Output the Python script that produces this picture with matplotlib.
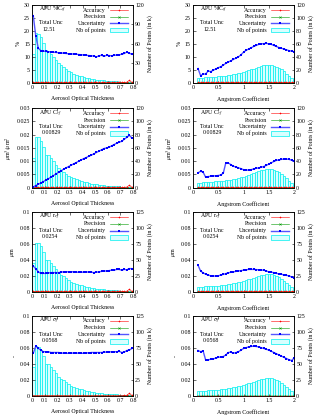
import matplotlib
matplotlib.use("Agg")
import matplotlib.pyplot as plt
from matplotlib.patches import Rectangle

plt.rcParams['font.family'] = ['Liberation Serif', 'DejaVu Serif']
plt.rcParams['mathtext.fontset'] = 'stix'
FS = 4.2

# ---------------- data ----------------
aot_x = [0.01, 0.03, 0.05, 0.07, 0.09, 0.11, 0.13, 0.15, 0.17, 0.19,
         0.21, 0.23, 0.25, 0.27, 0.29, 0.31, 0.33, 0.35, 0.37, 0.39,
         0.41, 0.43, 0.45, 0.47, 0.49, 0.51, 0.53, 0.55, 0.57, 0.59,
         0.61, 0.63, 0.65, 0.67, 0.69, 0.71, 0.73, 0.75, 0.77, 0.79]
ang_x = [0.10, 0.15, 0.20, 0.25, 0.30, 0.35, 0.40, 0.45, 0.50, 0.55,
         0.60, 0.65, 0.70, 0.75, 0.80, 0.85, 0.90, 0.95, 1.00, 1.05,
         1.10, 1.15, 1.20, 1.25, 1.30, 1.35, 1.40, 1.45, 1.50, 1.55,
         1.60, 1.65, 1.70, 1.75, 1.80, 1.85, 1.90, 1.95, 2.00]

# number of points (in k)
aot_count = [45, 77, 76, 71, 62, 50, 49, 45, 40, 35,
             30, 27, 24, 21, 18, 16, 14, 12.5, 11, 10,
             9, 8, 7, 6.3, 5.6, 5, 4.5, 4, 3.6, 3.2,
             2.9, 2.6, 2.3, 2.1, 1.9, 1.7, 1.5, 1.4, 1.2, 1.1]
ang_count = [7, 7.5, 8, 8.3, 8.6, 8.9, 9.2, 9.5, 9.8, 10.2,
             10.6, 11, 11.6, 12.2, 13, 13.8, 14.7, 15.7, 16.8, 18,
             19.3, 20.6, 22, 23.4, 24.8, 26, 27, 27.8, 28, 27.6,
             26.5, 25, 23, 20.5, 17.5, 14, 10.5, 7, 3.5]

# uncertainty curves
unc_cvfp_aot = [25.9, 18.0, 13.3, 12.4, 12.2, 12.1, 12.0, 11.9, 11.8, 11.7,
                11.6, 11.5, 11.4, 11.3, 11.2, 11.1, 11.1, 11.0, 10.9, 10.8,
                10.7, 10.6, 10.5, 10.4, 10.3, 10.0, 10.4, 10.6, 10.2, 10.6,
                10.5, 10.4, 10.6, 10.7, 10.8, 11.0, 11.3, 11.8, 11.4, 11.0]
unc_cvfp_ang = [5.5, 2.8, 3.3, 3.4, 4.5, 4.3, 4.8, 5.3, 5.8, 6.2,
                6.8, 7.5, 8.0, 8.5, 9.0, 9.5, 10.0, 10.8, 11.8, 12.5,
                13.0, 13.5, 14.0, 14.4, 14.8, 15.0, 15.1, 15.2, 15.0, 14.8,
                14.4, 14.0, 13.6, 13.3, 13.0, 12.7, 12.4, 12.2, 12.0]
unc_cvf_aot = [0.0003, 0.0008, 0.0013, 0.0018, 0.0023, 0.0029, 0.0034, 0.0040, 0.0046, 0.0052,
               0.0058, 0.0064, 0.0070, 0.0075, 0.0080, 0.0085, 0.0090, 0.0095, 0.0100, 0.0105,
               0.0110, 0.0114, 0.0119, 0.0123, 0.0128, 0.0133, 0.0138, 0.0143, 0.0148, 0.0150,
               0.0153, 0.0158, 0.0163, 0.0168, 0.0172, 0.0175, 0.0183, 0.0190, 0.0198, 0.0188]
unc_cvf_ang = [0.0056, 0.0062, 0.0059, 0.0040, 0.0042, 0.0043, 0.0044, 0.0045, 0.0046, 0.0048,
               0.0055, 0.0094, 0.0093, 0.0087, 0.0081, 0.0078, 0.0075, 0.0072, 0.0068, 0.0067,
               0.0066, 0.0068, 0.0071, 0.0073, 0.0075, 0.0077, 0.0080, 0.0084, 0.0089, 0.0094,
               0.0099, 0.0103, 0.0105, 0.0107, 0.0108, 0.0108, 0.0107, 0.0104, 0.0099]
unc_ref_aot = [0.032, 0.029, 0.025, 0.023, 0.023, 0.023, 0.0235, 0.024, 0.024, 0.024,
               0.024, 0.0245, 0.025, 0.025, 0.025, 0.025, 0.025, 0.0245, 0.0245, 0.0245,
               0.0245, 0.0245, 0.025, 0.0245, 0.024, 0.0245, 0.025, 0.0255, 0.026, 0.026,
               0.0265, 0.027, 0.027, 0.028, 0.028, 0.027, 0.028, 0.0275, 0.029, 0.029]
unc_ref_ang = [0.0333, 0.026, 0.0238, 0.022, 0.021, 0.020, 0.0196, 0.0198, 0.020, 0.021,
               0.0217, 0.0228, 0.0238, 0.0244, 0.025, 0.0255, 0.026, 0.0265, 0.027, 0.0275,
               0.028, 0.028, 0.028, 0.0278, 0.0275, 0.0272, 0.027, 0.026, 0.025, 0.0245,
               0.024, 0.023, 0.0225, 0.022, 0.021, 0.0205, 0.020, 0.0185, 0.0175]
unc_sig_aot = [0.053, 0.062, 0.059, 0.057, 0.055, 0.055, 0.055, 0.054, 0.054, 0.054,
               0.054, 0.0535, 0.053, 0.053, 0.053, 0.053, 0.0535, 0.0535, 0.053, 0.053,
               0.053, 0.0535, 0.0535, 0.054, 0.054, 0.054, 0.054, 0.054, 0.0545, 0.0545,
               0.0545, 0.055, 0.055, 0.055, 0.0555, 0.054, 0.0545, 0.0565, 0.057, 0.059]
unc_sig_ang = [0.0565, 0.055, 0.056, 0.045, 0.045, 0.0455, 0.046, 0.047, 0.048, 0.0485,
               0.049, 0.051, 0.054, 0.0545, 0.053, 0.054, 0.055, 0.057, 0.059, 0.060,
               0.061, 0.0615, 0.062, 0.0615, 0.061, 0.060, 0.059, 0.058, 0.057, 0.0555,
               0.054, 0.0525, 0.051, 0.0495, 0.048, 0.0465, 0.045, 0.044, 0.047]

# accuracy (fraction of panel max, tiny) typed per variable
acc_aot = [0.004, 0.004, 0.004, 0.004, 0.004, 0.004, 0.004, 0.004, 0.004, 0.004,
           0.004, 0.004, 0.004, 0.004, 0.004, 0.004, 0.004, 0.004, 0.004, 0.004,
           0.004, 0.004, 0.004, 0.004, 0.004, 0.004, 0.004, 0.004, 0.004, 0.004,
           0.004, 0.004, 0.004, 0.004, 0.004, 0.004, 0.005, 0.008, 0.03, 0.006]
acc_ang = [0.004] * 39

var_labels = [r'APU %C$_{vf}$', r'APU C$_{vf}$', r'APU r$_{ef}$', r'APU $\sigma_f$']
total_unc = ['12.51', '0.00829', '0.0254', '0.0568']
y_units = ['%', r'$\mu$m$^3$/$\mu$m$^2$', r'$\mu$m', '-']
y_max = [30, 0.03, 0.1, 0.1]
y_ticks = [[0, 5, 10, 15, 20, 25, 30],
           [0, 0.005, 0.01, 0.015, 0.02, 0.025, 0.03],
           [0, 0.02, 0.04, 0.06, 0.08, 0.1],
           [0, 0.02, 0.04, 0.06, 0.08, 0.1]]
y_ticklabels = [['0', '5', '10', '15', '20', '25', '30'],
                ['0', '0.005', '0.01', '0.015', '0.02', '0.025', '0.03'],
                ['0', '0.02', '0.04', '0.06', '0.08', '0.1'],
                ['0', '0.02', '0.04', '0.06', '0.08', '0.1']]
y2_max = [[120, 120], [120, 120], [125, 125], [125, 125]]
y2_ticks = [[[0, 30, 60, 90, 120], [0, 20, 40, 60, 80, 100, 120]],
            [[0, 20, 40, 60, 80, 100, 120], [0, 20, 40, 60, 80, 100, 120]],
            [[0, 25, 50, 75, 100, 125], [0, 25, 50, 75, 100, 125]],
            [[0, 25, 50, 75, 100, 125], [0, 25, 50, 75, 100, 125]]]
unc_aot = [unc_cvfp_aot, unc_cvf_aot, unc_ref_aot, unc_sig_aot]
unc_ang = [unc_cvfp_ang, unc_cvf_ang, unc_ref_ang, unc_sig_ang]

aot_ticks = [0, 0.1, 0.2, 0.3, 0.4, 0.5, 0.6, 0.7, 0.8]
aot_ticklabels = ['0', '0.1', '0.2', '0.3', '0.4', '0.5', '0.6', '0.7', '0.8']
ang_ticks = [0, 0.5, 1, 1.5, 2]
ang_ticklabels = ['0', '0.5', '1', '1.5', '2']

# ---------------- figure ----------------
fig = plt.figure(figsize=(3.2, 4.18), dpi=100)
col_left = [0.100, 0.603]
col_w = 0.316
row_bottom = [0.802, 0.551, 0.302, 0.053]
row_h = [0.186, 0.190, 0.191, 0.192]

RED = '#ff0000'
GREEN = '#009900'
BLUE = '#0000ff'
LBLUE = '#5555ff'
CYAN = '#00eeee'
CFILL = '#d8ffff'


def style_ticks(a):
    a.tick_params(direction='in', labelsize=FS, length=1.8, width=0.4, pad=1.5)


for r in range(4):
    for c in range(2):
        ax = fig.add_axes([col_left[c], row_bottom[r], col_w, row_h[r]])
        ax2 = ax.twinx()
        ax.set_zorder(ax2.get_zorder() + 1)
        ax.patch.set_visible(False)
        if c == 0:
            xs, cnt, unc, acc = aot_x, aot_count, unc_aot[r], acc_aot
            bw = 0.02
            xl = 'Aerosol Optical Thickness'
            xt, xtl, xlim = aot_ticks, aot_ticklabels, (0, 0.8)
        else:
            xs, cnt, unc, acc = ang_x, ang_count, unc_ang[r], acc_ang
            bw = 0.05
            xl = 'Angstrom Coefficient'
            xt, xtl, xlim = ang_ticks, ang_ticklabels, (0, 2)
        ymax = y_max[r]
        # histogram
        ax2.bar(xs, cnt, width=bw, facecolor=CFILL, edgecolor=CYAN, linewidth=0.5)
        ax2.set_ylim(0, y2_max[r][c])
        ax2.set_yticks(y2_ticks[r][c])
        ax2.set_ylabel('Number of Points (in k)', fontsize=FS, labelpad=2)
        style_ticks(ax2)
        # curves
        ax.plot(xs, [0] * len(xs), color=GREEN, lw=0.4, marker='x', ms=1.5, mew=0.4)
        ax.plot(xs, [a * ymax for a in acc], color=RED, lw=0.4, marker='+', ms=2, mew=0.4)
        ax.plot(xs, unc, color=LBLUE, lw=1.0, marker='s', ms=1.9, mfc=BLUE, mec=BLUE, mew=0)
        ax.set_xlim(*xlim)
        ax.set_ylim(0, ymax)
        ax.set_xticks(xt)
        ax.set_xticklabels(xtl)
        ax.set_yticks(y_ticks[r])
        ax.set_yticklabels(y_ticklabels[r])
        ax.tick_params(top=True)
        style_ticks(ax)
        ax.set_xlabel(xl, fontsize=FS, labelpad=4.5)
        ax.set_ylabel(y_units[r], fontsize=FS, labelpad=2)
        for a in (ax, ax2):
            for s in a.spines.values():
                s.set_linewidth(0.5)
        # annotations
        ax.text(0.07, 0.935, var_labels[r], transform=ax.transAxes, fontsize=FS,
                va='center', ha='left')
        ax.text(0.07, 0.77, 'Total Unc', transform=ax.transAxes, fontsize=FS,
                va='center', ha='left')
        ax.text(0.10, 0.69, total_unc[r], transform=ax.transAxes, fontsize=FS,
                va='center', ha='left')
        # manual legend
        names = ['Accuracy', 'Precision', 'Uncertainty', 'Nb of points']
        ys = [0.935, 0.85, 0.765, 0.68]
        for name, yy in zip(names, ys):
            ax.text(0.73, yy, name, transform=ax.transAxes, fontsize=FS,
                    va='center', ha='right')
        x0, x1 = 0.77, 0.95
        ax.plot([x0, x1], [ys[0]] * 2, color=RED, lw=0.4, transform=ax.transAxes, clip_on=False)
        ax.plot([(x0 + x1) / 2], [ys[0]], color=RED, marker='+', ms=2, mew=0.4,
                transform=ax.transAxes, clip_on=False)
        ax.plot([x0, x1], [ys[1]] * 2, color=GREEN, lw=0.4, transform=ax.transAxes, clip_on=False)
        ax.plot([(x0 + x1) / 2], [ys[1]], color=GREEN, marker='x', ms=1.5, mew=0.4,
                transform=ax.transAxes, clip_on=False)
        ax.plot([x0, x1], [ys[2]] * 2, color=LBLUE, lw=1.0, transform=ax.transAxes, clip_on=False)
        ax.plot([(x0 + x1) / 2], [ys[2]], color=BLUE, marker='s', ms=1.9, mew=0,
                transform=ax.transAxes, clip_on=False)
        ax.add_patch(Rectangle((x0, ys[3] - 0.03), x1 - x0, 0.06, transform=ax.transAxes,
                               facecolor=CFILL, edgecolor=CYAN, lw=0.5, clip_on=False))

fig.savefig('out.png', dpi=100)
